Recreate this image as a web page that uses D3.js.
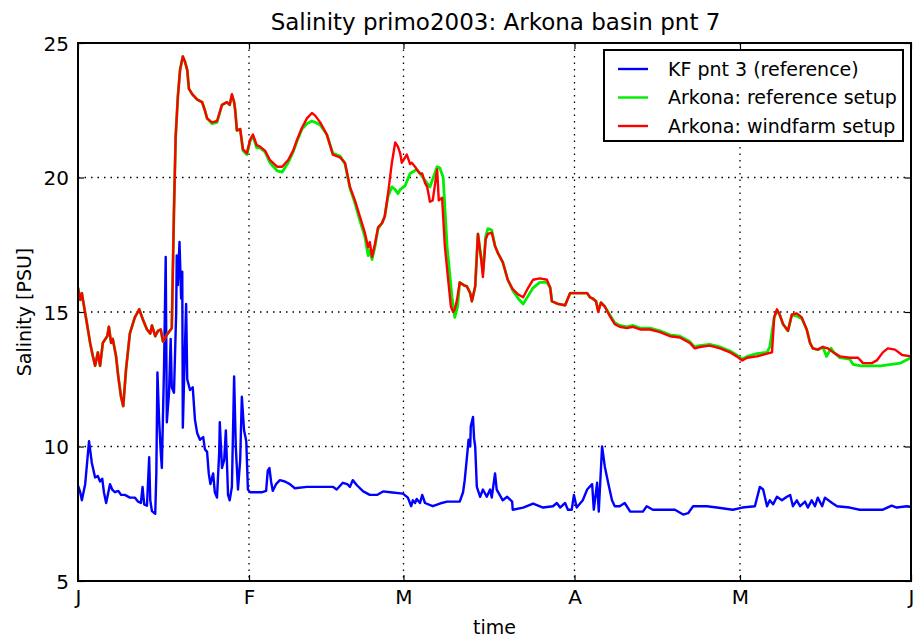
<!DOCTYPE html>
<html>
<head>
<meta charset="utf-8">
<script src="https://cdn.jsdelivr.net/npm/d3@7"></script>
<style>
  html, body { margin: 0; padding: 0; background: #fff; }
  svg { display: block; font-family: "DejaVu Sans", sans-serif; }
</style>
</head>
<body>
<svg id="chart" width="914" height="639"></svg>
<script>
// Salinity at Arkona basin point 7, Jan - Jun 2003 (day of year, PSU)
const kfDays = [0.0,0.4,0.7,1.3,2.0,2.5,3.1,3.6,4.0,4.4,4.7,5.1,5.4,5.8,6.2,6.7,7.3,7.8,8.5,9.4,10.3,10.9,11.4,11.7,12.0,12.5,12.9,13.1,13.4,14.0,14.2,14.4,14.7,15.0,15.2,15.6,15.9,16.1,16.5,16.8,17.0,17.4,17.8,17.9,18.1,18.4,18.7,18.9,19.0,19.3,19.6,19.8,20.3,20.8,21.2,21.6,22.1,22.7,23.0,23.4,23.7,24.0,24.5,24.8,25.2,25.6,25.7,26.1,26.5,26.8,27.2,27.5,27.9,28.3,28.6,29.0,29.4,29.7,30.1,30.5,30.8,31.2,33.4,34.1,34.4,34.7,35.0,35.3,35.9,36.6,37.5,38.4,39.3,41.5,43.9,46.2,46.9,48.0,48.8,49.3,49.8,50.6,51.7,52.9,54.2,55.3,56.6,58.9,59.8,60.4,60.7,61.1,61.4,62.0,62.4,62.9,64.3,65.6,66.9,69.2,69.8,70.1,70.5,70.8,71.1,71.2,71.6,71.8,72.0,72.3,72.9,73.4,74.1,74.7,75.0,75.6,75.9,77.0,77.8,78.7,78.8,80.7,82.5,84.3,86.1,86.8,87.4,88.3,88.8,89.5,89.9,90.4,91.5,92.3,93.2,93.5,94.1,94.4,95.0,95.5,96.1,96.8,97.3,98.2,99.1,100.1,102.4,103.1,104.2,106.8,108.2,109.7,110.6,111.5,114.0,115.8,118.7,120.4,122.7,123.6,124.2,124.9,125.4,126.0,126.7,127.6,128.5,129.1,129.6,130.3,130.9,131.8,132.3,133.0,133.6,134.1,134.9,135.4,136.7,137.6,139.9,141.7,145.9,147.5,148.4,150.3,151.0];
const kfValues = [8.55,8.3,8.0,8.6,10.2,9.4,8.85,8.9,8.7,8.8,8.3,7.9,8.2,8.6,8.4,8.3,8.35,8.2,8.2,8.1,8.1,7.95,7.9,8.5,7.85,7.8,9.6,8.0,7.6,7.5,9.0,12.75,11.0,9.8,9.2,13.0,17.05,10.9,12.0,14.0,12.2,12.0,15.0,17.1,16.0,17.6,15.5,16.5,10.7,13.0,15.3,12.5,12.1,12.2,11.0,10.5,10.25,10.35,9.9,9.8,9.0,8.6,9.0,8.3,8.1,9.8,10.9,9.2,9.5,10.6,8.2,8.0,8.5,12.6,10.0,8.4,9.5,11.85,10.6,10.2,8.4,8.3,8.3,8.35,9.1,9.2,8.7,8.35,8.6,8.75,8.7,8.6,8.45,8.5,8.5,8.5,8.4,8.65,8.6,8.5,8.75,8.55,8.33,8.2,8.2,8.33,8.3,8.25,8.1,7.78,8.0,7.9,8.05,7.9,8.2,7.9,7.78,7.88,7.95,7.95,8.3,8.75,9.6,10.25,10.0,10.75,11.1,10.3,10.0,8.5,8.13,8.4,8.13,8.4,8.1,9.0,8.4,8.0,8.13,7.95,7.65,7.73,7.88,7.73,7.78,7.9,7.73,7.9,7.65,7.65,8.2,7.73,8.0,8.4,8.6,7.65,8.65,7.58,10.0,9.25,8.65,8.0,7.78,7.78,7.9,7.58,7.58,7.78,7.65,7.65,7.65,7.47,7.52,7.78,7.78,7.73,7.65,7.73,7.78,8.5,8.4,7.78,8.0,7.85,8.13,8.0,8.13,8.2,7.78,8.0,7.78,7.95,7.73,8.0,7.78,8.1,7.78,8.1,7.9,7.78,7.73,7.65,7.65,7.8,7.73,7.78,7.75];

const windDays = [0.0,0.4,0.7,1.1,1.6,2.2,2.7,3.1,3.6,4.0,4.5,5.3,5.6,6.0,6.3,6.9,7.3,7.8,8.2,8.7,9.4,10.3,11.1,11.8,12.5,13.1,13.4,14.0,14.5,15.0,15.4,16.1,17.0,17.4,17.7,18.1,18.5,19.0,19.4,19.8,20.1,20.7,21.6,22.5,23.0,23.4,24.3,25.2,26.1,27.0,27.5,27.9,28.3,28.5,28.8,29.4,29.9,30.6,31.2,31.7,32.4,33.0,33.9,34.8,36.1,37.0,38.1,39.0,39.7,40.6,41.5,42.4,43.0,43.9,45.1,46.2,47.5,48.4,49.3,50.2,51.1,52.0,52.6,52.9,53.3,53.8,54.4,55.1,55.6,56.2,56.9,57.5,58.0,58.4,58.7,59.3,59.6,60.2,60.5,61.1,61.4,62.0,62.4,62.9,63.3,63.8,64.3,65.1,65.4,66.0,66.5,67.1,67.6,68.0,68.3,68.7,69.2,69.9,70.5,71.1,71.4,72.0,72.5,73.1,73.4,73.9,74.3,75.0,75.6,76.1,77.0,77.9,78.8,79.8,80.7,81.6,82.5,83.7,85.0,85.6,85.9,87.0,88.3,89.2,90.1,91.4,92.3,92.8,93.3,93.9,94.3,94.8,95.5,96.4,97.3,98.2,99.5,100.6,101.9,103.7,105.5,107.3,109.1,110.9,111.8,112.7,114.5,116.4,118.2,119.4,120.4,121.3,123.1,124.9,125.8,126.2,126.7,127.2,127.8,128.7,129.4,130.3,131.2,132.1,132.7,133.2,134.1,135.0,135.9,136.9,138.1,139.9,141.4,142.3,143.9,144.8,145.9,146.8,148.1,149.4,151.0];
const windValues = [15.9,15.45,15.7,15.2,14.6,13.85,13.35,13.0,13.5,13.0,13.85,14.1,14.45,13.85,14.0,13.35,12.6,11.85,11.5,12.85,14.2,14.8,15.1,14.7,14.35,14.2,14.5,14.1,14.3,14.35,13.9,14.15,14.4,18.8,21.5,23.0,24.0,24.5,24.3,24.0,23.3,23.1,22.9,22.8,22.5,22.2,22.05,22.1,22.7,22.8,22.7,23.1,22.8,22.5,21.75,21.8,21.05,20.9,21.4,21.6,21.2,21.15,21.0,20.65,20.4,20.4,20.65,21.0,21.4,21.85,22.2,22.4,22.3,22.05,21.6,20.85,20.75,20.55,19.65,19.15,18.55,17.95,17.4,17.6,17.05,17.5,18.15,18.3,18.55,19.4,20.55,21.3,21.15,20.9,20.55,20.75,20.85,20.5,20.55,20.4,20.3,20.15,20.15,19.8,19.65,19.1,19.15,20.3,19.15,19.25,17.45,16.2,15.2,15.0,15.1,15.45,16.1,16.0,15.95,15.7,15.4,15.95,17.9,16.95,16.3,17.7,17.9,17.95,17.45,17.2,16.85,16.2,15.85,15.65,15.55,15.9,16.2,16.25,16.2,15.9,15.4,15.3,15.25,15.7,15.7,15.7,15.7,15.55,15.5,15.4,15.0,15.35,15.2,14.85,14.55,14.45,14.4,14.45,14.35,14.35,14.25,14.1,14.05,13.85,13.65,13.7,13.75,13.65,13.5,13.35,13.2,13.3,13.35,13.45,13.5,14.8,15.1,14.9,14.55,14.3,14.9,14.95,14.8,14.35,13.85,13.65,13.6,13.7,13.65,13.5,13.35,13.3,13.3,13.1,13.1,13.2,13.5,13.65,13.6,13.4,13.35];

const refDays = [0.0,0.4,0.7,1.1,1.6,2.2,2.7,3.1,3.6,4.0,4.5,5.3,5.6,6.0,6.3,6.9,7.3,7.8,8.2,8.7,9.4,10.3,11.1,11.8,12.5,13.1,13.4,14.0,14.5,15.0,15.4,16.1,17.0,17.4,17.7,18.1,18.5,19.0,19.4,19.8,20.1,20.7,21.6,22.5,23.0,23.4,24.3,25.2,26.1,27.0,27.5,27.9,28.3,28.5,28.8,29.4,29.9,30.6,31.2,31.7,32.4,33.0,33.9,34.8,36.1,37.0,38.1,39.0,39.7,40.6,41.5,42.4,43.0,43.9,45.1,46.2,47.5,48.4,49.3,50.2,51.1,52.0,52.6,52.9,53.3,53.8,54.4,55.1,55.6,56.2,56.9,57.5,58.0,58.4,59.3,60.2,61.4,62.5,63.8,65.1,65.6,66.2,66.9,67.8,68.3,68.8,69.2,69.9,70.5,71.1,71.4,72.0,72.5,73.1,73.4,73.9,74.3,75.0,75.6,76.1,77.0,77.9,78.8,79.8,80.7,81.6,82.5,83.7,85.0,85.6,85.9,87.0,88.3,89.2,90.1,91.4,92.3,92.8,93.3,93.9,94.3,94.8,95.5,96.4,97.3,98.2,99.5,100.6,101.9,103.7,105.5,107.3,109.1,110.9,111.8,112.7,114.5,116.4,118.2,119.4,120.4,121.3,123.1,124.9,125.4,126.2,126.7,127.2,127.8,128.7,129.4,130.3,131.2,132.1,132.7,133.2,134.1,135.0,135.7,136.5,137.0,138.1,139.9,140.5,141.9,145.5,149.1,151.0];
const refValues = [15.9,15.45,15.7,15.2,14.6,13.85,13.35,13.0,13.5,13.0,13.85,14.1,14.45,13.85,14.0,13.35,12.6,11.85,11.5,12.85,14.2,14.8,15.1,14.7,14.35,14.2,14.5,14.1,14.3,14.35,13.9,14.15,14.4,18.8,21.5,23.0,24.0,24.5,24.3,24.0,23.3,23.1,22.9,22.8,22.5,22.2,22.0,22.05,22.7,22.8,22.7,23.05,22.8,22.5,21.75,21.8,21.0,20.85,21.35,21.55,21.1,21.1,20.95,20.55,20.25,20.2,20.55,20.95,21.35,21.8,22.0,22.1,22.05,21.95,21.6,20.9,20.8,20.5,19.6,19.05,18.4,17.8,17.1,17.3,16.95,17.4,18.1,18.3,18.55,19.3,19.65,19.55,19.4,19.55,19.7,20.15,20.3,20.0,19.65,20.4,20.35,20.0,17.45,15.55,14.8,15.2,16.1,16.0,15.95,15.7,15.4,15.95,17.9,16.95,16.5,17.8,18.1,18.05,17.45,17.2,16.85,16.2,15.8,15.5,15.3,15.6,15.9,16.1,16.1,15.9,15.4,15.3,15.25,15.7,15.7,15.7,15.7,15.55,15.5,15.4,15.05,15.35,15.2,14.9,14.6,14.5,14.45,14.5,14.4,14.4,14.3,14.15,14.1,13.9,13.7,13.75,13.8,13.7,13.55,13.4,13.25,13.35,13.45,13.5,13.7,14.8,15.05,14.9,14.55,14.3,14.9,14.85,14.75,14.35,13.85,13.65,13.6,13.7,13.35,13.65,13.5,13.3,13.25,13.05,13.0,13.0,13.1,13.3];

const xTickDays = [0, 31, 59, 90, 120, 151];
const xTickLabels = ["J", "F", "M", "A", "M", "J"];
const yTicks = [5, 10, 15, 20, 25];

const seriesNames = ["KF pnt 3 (reference)", "Arkona: reference setup", "Arkona: windfarm setup"];
const seriesColors = ["#0000ff", "#00ee00", "#ff0000"];

const W = 914, H = 639;
const margin = {left: 78, right: 3, top: 43, bottom: 58};
const svg = d3.select("#chart");
const plotW = W - margin.left - margin.right;
const plotH = H - margin.top - margin.bottom;
const g = svg.append("g").attr("transform", `translate(${margin.left},${margin.top})`);

const t0 = new Date(2003, 0, 1);
const dayToDate = d => new Date(t0.getTime() + d * 86400000);
const x = d3.scaleTime().domain([dayToDate(0), dayToDate(151)]).range([0, plotW]);
const y = d3.scaleLinear().domain([5, 25]).range([plotH, 0]);

// dotted grid
const grid = g.append("g");
grid.selectAll("line.gx").data(xTickDays.slice(1, -1)).enter().append("line")
  .attr("x1", d => x(dayToDate(d))).attr("x2", d => x(dayToDate(d)))
  .attr("y1", 0).attr("y2", plotH)
  .attr("stroke", "#000").attr("stroke-width", 1.3).attr("stroke-dasharray", "1.5,5");
grid.selectAll("line.gy").data(yTicks.slice(1, -1)).enter().append("line")
  .attr("y1", d => y(d)).attr("y2", d => y(d))
  .attr("x1", 0).attr("x2", plotW)
  .attr("stroke", "#000").attr("stroke-width", 1.3).attr("stroke-dasharray", "1.5,5");

// series
const line = d3.line().x(d => x(dayToDate(d[0]))).y(d => y(d[1]));
const zip = (a, b) => a.map((d, i) => [d, b[i]]);
svg.append("defs").append("clipPath").attr("id", "plotclip")
  .append("rect").attr("width", plotW).attr("height", plotH);
const lines = g.append("g").attr("clip-path", "url(#plotclip)");
lines.append("path").datum(zip(kfDays, kfValues)).attr("d", line)
  .attr("fill", "none").attr("stroke", seriesColors[0]).attr("stroke-width", 2.4).attr("stroke-linejoin", "round");
lines.append("path").datum(zip(refDays, refValues)).attr("d", line)
  .attr("fill", "none").attr("stroke", seriesColors[1]).attr("stroke-width", 2.8).attr("stroke-linejoin", "round");
lines.append("path").datum(zip(windDays, windValues)).attr("d", line)
  .attr("fill", "none").attr("stroke", seriesColors[2]).attr("stroke-width", 2.4).attr("stroke-linejoin", "round");

// axes: ticks drawn inward on all four sides
const xTickVals = xTickDays.map(dayToDate);
const fmtX = (d, i) => xTickLabels[i];
const axB = g.append("g").attr("transform", `translate(0,${plotH})`)
  .call(d3.axisBottom(x).tickValues(xTickVals).tickFormat(fmtX).tickSizeInner(-6).tickSizeOuter(0).tickPadding(9));
const axT = g.append("g")
  .call(d3.axisTop(x).tickValues(xTickVals).tickFormat("").tickSizeInner(-6).tickSizeOuter(0));
const axL = g.append("g")
  .call(d3.axisLeft(y).tickValues(yTicks).tickFormat(d3.format("d")).tickSizeInner(-6).tickSizeOuter(0).tickPadding(9));
const axR = g.append("g").attr("transform", `translate(${plotW},0)`)
  .call(d3.axisRight(y).tickValues(yTicks).tickFormat("").tickSizeInner(-6).tickSizeOuter(0));
[axB, axT, axL, axR].forEach(a => {
  a.select(".domain").remove();
  a.selectAll(".tick line").attr("stroke", "#000").attr("stroke-width", 1.2);
  a.selectAll("text").attr("font-family", "DejaVu Sans").attr("font-size", 20).attr("fill", "#000");
});
axL.selectAll("text").attr("dy", "0.35em");

// frame
g.append("rect").attr("width", plotW).attr("height", plotH)
  .attr("fill", "none").attr("stroke", "#000").attr("stroke-width", 2);

// title and axis labels
svg.append("text").attr("x", margin.left + plotW / 2 + 1).attr("y", 30)
  .attr("text-anchor", "middle").attr("font-size", 23).text("Salinity primo2003: Arkona basin pnt 7");
svg.append("text").attr("x", margin.left + plotW / 2).attr("y", 634)
  .attr("text-anchor", "middle").attr("font-size", 19).text("time");
svg.append("text").attr("transform", `translate(31,${margin.top + plotH / 2}) rotate(-90)`)
  .attr("text-anchor", "middle").attr("font-size", 19).text("Salinity [PSU]");

// legend
const lg = svg.append("g").attr("transform", "translate(604,50)");
lg.append("rect").attr("width", 299).attr("height", 91)
  .attr("fill", "#fff").attr("stroke", "#000").attr("stroke-width", 2);
seriesNames.forEach((name, i) => {
  const yy = 19 + i * 28.5;
  lg.append("line").attr("x1", 14).attr("x2", 44).attr("y1", yy).attr("y2", yy)
    .attr("stroke", seriesColors[i]).attr("stroke-width", 2.4);
  lg.append("text").attr("x", 64).attr("y", yy).attr("dy", "0.35em")
    .attr("font-size", 19).text(name);
});
</script>
</body>
</html>
